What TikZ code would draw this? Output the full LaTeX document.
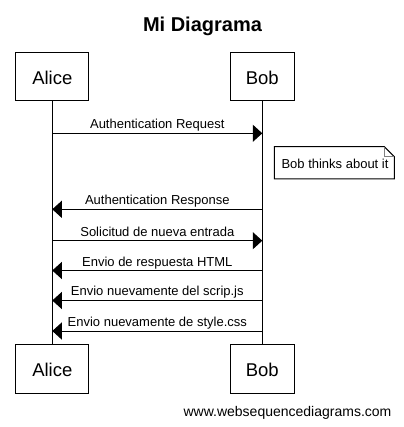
\documentclass[tikz,border=0pt]{standalone}
\usepackage{fontspec}
\setmainfont{Liberation Sans}
\usetikzlibrary{arrows.meta}
\begin{document}
\begin{tikzpicture}[x=1pt,y=-1pt,
  actor/.style={draw,line width=1pt,font=\fontsize{18.5}{20}\selectfont,inner sep=0pt,
    text height=16pt,text depth=0pt,minimum height=48pt},
  msg/.style={line width=1pt,-{Triangle[length=9.5pt,width=17pt]}},
  lbl/.style={font=\fontsize{13}{15}\selectfont,anchor=base,inner sep=0pt},
  life/.style={line width=1pt},
  notebox/.style={font=\fontsize{13}{15}\selectfont,inner sep=0pt}]
\useasboundingbox (0,0) rectangle (403,427);
% title
\node[font=\bfseries\fontsize{20}{24}\selectfont,anchor=base,inner sep=0pt] (title) at (202.5,31.7) {Mi Diagrama};
% participants
\node[actor,minimum width=73pt] (aliceT) at (52.3,77) {Alice};
\node[actor,minimum width=64pt] (bobT) at (262.3,77) {Bob};
\node[actor,minimum width=73pt,minimum height=49pt] (aliceB) at (52.3,368.8) {Alice};
\node[actor,minimum width=64pt,minimum height=49pt] (bobB) at (262.3,368.8) {Bob};
% lifelines
\draw[life] (aliceT.south) -- (aliceB.north);
\draw[life] (bobT.south) -- (bobB.north);
% message endpoints
\coordinate (a1) at (52.3,133.3); \coordinate (b1) at (262.3,133.3);
\coordinate (a2) at (52.3,209.3); \coordinate (b2) at (262.3,209.3);
\coordinate (a3) at (52.3,240.7); \coordinate (b3) at (262.3,240.7);
\coordinate (a4) at (52.3,270.5); \coordinate (b4) at (262.3,270.5);
\coordinate (a5) at (52.3,300.5); \coordinate (b5) at (262.3,300.5);
\coordinate (a6) at (52.3,331); \coordinate (b6) at (262.3,331);
\draw[msg] (a1) -- (b1);
\draw[msg] (b2) -- (a2);
\draw[msg] (a3) -- (b3);
\draw[msg] (b4) -- (a4);
\draw[msg] (b5) -- (a5);
\draw[msg] (b6) -- (a6);
\node[lbl] (l1) at (157.3,128.5) {Authentication Request};
\node[lbl] (l2) at (157.3,204.8) {Authentication Response};
\node[lbl] (l3) at (157.3,236.1) {Solicitud de nueva entrada};
\node[lbl] (l4) at (157.3,266) {Envio de respuesta HTML};
\node[lbl] (l5) at (157.3,295.9) {Envio nuevamente del scrip.js};
\node[lbl] (l6) at (157.3,326.5) {Envio nuevamente de style.css};
% note
\draw[line width=1pt,fill=white] (274.3,146.7) -- (384.3,146.7) -- (394.3,156.7) -- (394.3,179) -- (274.3,179) -- cycle;
\draw[line width=0.8pt,gray] (384.3,146.7) -- (384.3,156.7) -- (394.3,156.7);
\node[notebox,anchor=base] (note) at (335,169) {Bob thinks about it};
% footer
\node[font=\fontsize{14}{16}\selectfont,anchor=base,inner sep=0pt] (footer) at (287.5,416) {www.websequencediagrams.com};
\end{tikzpicture}
\end{document}
